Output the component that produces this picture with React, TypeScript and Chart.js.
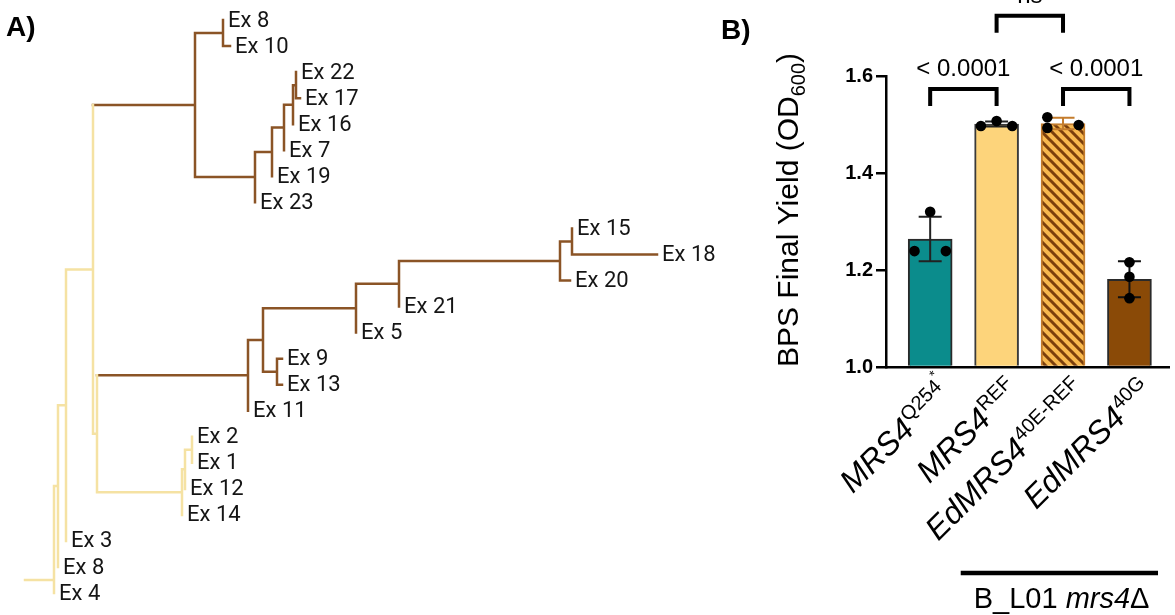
import React, { useEffect, useRef } from 'react';
import { Chart, registerables } from 'chart.js';

Chart.register(...registerables);

// ================= Panel A: phylogenetic tree =================
// Nodes listed top-down; a node's parent always precedes it.
const nodeLabels = [
  '', '', '', '', '', '', '', 'Ex 8', 'Ex 10', '', '', '', '', '', 'Ex 22', 'Ex 17', 'Ex 16', 'Ex 7', 'Ex 19', 'Ex 23',
  '', '', '', '', '', '', '', 'Ex 15', 'Ex 18', 'Ex 20', 'Ex 21', 'Ex 5', '', 'Ex 9', 'Ex 13', 'Ex 11',
  '', '', '', 'Ex 2', 'Ex 1', 'Ex 12', 'Ex 14', 'Ex 3', 'Ex 8', 'Ex 4',
];
const nodeParents = [
  -1, 0, 1, 2, 3, 4, 5, 6, 6, 5, 9, 10, 11, 12, 13, 13, 12, 11, 10, 9,
  4, 20, 21, 22, 23, 24, 25, 26, 26, 25, 24, 23, 22, 32, 32, 21,
  20, 36, 37, 38, 38, 37, 36, 3, 2, 1,
];
// distance from root (substitutions, arbitrary units)
const nodeDepths = [
  0, 0.029, 0.033, 0.041, 0.068, 0.170, 0.198, 0.198, 0.205, 0.230, 0.247, 0.259, 0.268, 0.271, 0.271, 0.275, 0.268, 0.259, 0.247, 0.230,
  0.072, 0.223, 0.238, 0.331, 0.374, 0.535, 0.547, 0.547, 0.632, 0.545, 0.374, 0.331, 0.252, 0.257, 0.257, 0.223,
  0.157, 0.160, 0.167, 0.167, 0.167, 0.160, 0.157, 0.041, 0.033, 0.029,
];
// 0 = ancestral (pale yellow), 1 = derived (brown)
const nodeClades = [
  0, 0, 0, 0, 0, 1, 1, 1, 1, 1, 1, 1, 1, 1, 1, 1, 1, 1, 1, 1,
  0, 1, 1, 1, 1, 1, 1, 1, 1, 1, 1, 1, 1, 1, 1, 1,
  0, 0, 0, 0, 0, 0, 0, 0, 0, 0,
];
const rootStubLeafPos = 21.5;

const CLADE_COLORS = ['#f5e2a3', '#8b5426'];

// ================= Panel B: bar chart =================
const strainBase = ['MRS4', 'MRS4', 'EdMRS4', 'EdMRS4'];
const strainSup = ['Q254', 'REF', '40E-REF', '40G'];
const strainSupMark = ['*', '', '', ''];
const meanYield = [1.264, 1.501, 1.502, 1.181];
const sdYield = [0.046, 0.005, 0.012, 0.037];
const yieldQ254 = [1.320, 1.239, 1.239];
const yieldRef = [1.497, 1.507, 1.497];
const yieldEdRef = [1.515, 1.493, 1.499];
const yieldEd40G = [1.216, 1.186, 1.142];
const replicates = [yieldQ254, yieldRef, yieldEdRef, yieldEd40G];
const yTicks = [1.0, 1.2, 1.4, 1.6];
const compPairs = [[0, 1], [2, 3], [1, 2]];
const compLabels = ['< 0.0001', '< 0.0001', 'ns'];
const compLevels = [1.573, 1.573, 1.724];

// styling
const dotSpread = [[0, -1, 1], [-1, 0, 1], [-1, -1, 1], [0, 0, 0]];
const BAR_BORDERS = ['#2a2a2a', '#3a3a3a', '#c47c2c', '#2a2a2a'];
const ERR_COLORS = ['#222222', '#222222', '#c47c2c', '#111111'];
const SANS = '"Liberation Sans", Arial, sans-serif';

function makeHatch(): CanvasPattern | string {
  const c = document.createElement('canvas');
  c.width = 10;
  c.height = 10;
  const g = c.getContext('2d');
  if (!g) return '#f7b64c';
  g.fillStyle = '#f8b84e';
  g.fillRect(0, 0, 10, 10);
  g.strokeStyle = '#7b3f0c';
  g.lineWidth = 3;
  g.beginPath();
  for (const o of [-10, 0, 10]) {
    g.moveTo(o - 2, -2);
    g.lineTo(o + 12, 12);
  }
  g.stroke();
  return g.createPattern(c, 'repeat') || '#f7b64c';
}

function TreeChart() {
  const ref = useRef<HTMLCanvasElement | null>(null);
  useEffect(() => {
    if (!ref.current) return;
    const n = nodeLabels.length;
    const children: number[][] = Array.from({ length: n }, () => []);
    nodeParents.forEach((p, i) => {
      if (p >= 0) children[p].push(i);
    });
    const ypos = new Array(n).fill(0);
    let leaf = 0;
    for (let i = 0; i < n; i++) if (children[i].length === 0) ypos[i] = leaf++;
    for (let i = n - 1; i >= 0; i--) {
      if (children[i].length) {
        const ys = children[i].map((c) => ypos[c]);
        ypos[i] = (Math.min(...ys) + Math.max(...ys)) / 2;
      }
    }
    ypos[children[0][0]] = rootStubLeafPos;

    const segs: { x: number; y: number | null }[][] = [[], []];
    const add = (cl: number, x1: number, y1: number, x2: number, y2: number) => {
      segs[cl].push({ x: x1, y: y1 }, { x: x2, y: y2 }, { x: x2, y: null });
    };
    for (let i = 0; i < n; i++) {
      const p = nodeParents[i];
      if (p >= 0) add(nodeClades[i], nodeDepths[p], ypos[i], nodeDepths[i], ypos[i]);
      if (children[i].length > 1) {
        const ys = children[i].map((c) => ypos[c]);
        add(nodeClades[i], nodeDepths[i], Math.min(...ys), nodeDepths[i], Math.max(...ys));
      }
    }

    const labelPlugin = {
      id: 'treeLabels',
      afterDatasetsDraw(chart: any) {
        const ctx = chart.ctx;
        const xs = chart.scales.x;
        const ysc = chart.scales.y;
        ctx.save();
        ctx.fillStyle = '#151515';
        ctx.font = '22px Roboto, "Noto Sans", sans-serif';
        ctx.textAlign = 'left';
        ctx.textBaseline = 'middle';
        for (let i = 0; i < n; i++) {
          if (children[i].length === 0) {
            ctx.fillText(nodeLabels[i], xs.getPixelForValue(nodeDepths[i]) + 5, ysc.getPixelForValue(ypos[i]) + 1);
          }
        }
        ctx.fillStyle = '#000';
        ctx.font = `bold 28px ${SANS}`;
        ctx.textBaseline = 'alphabetic';
        ctx.fillText('A)', 6, 36);
        ctx.restore();
      },
    };

    const chart = new Chart(ref.current, {
      type: 'scatter',
      data: {
        datasets: segs.map((d, k) => ({
          data: d as any,
          showLine: true,
          spanGaps: false,
          borderColor: CLADE_COLORS[k],
          borderWidth: 2.5,
          borderCapStyle: 'square' as const,
          pointRadius: 0,
          tension: 0,
        })),
      },
      options: {
        responsive: false,
        animation: false,
        layout: { padding: 0 },
        plugins: { legend: { display: false }, tooltip: { enabled: false } },
        scales: {
          x: { type: 'linear', min: -0.025, max: 0.695, display: false },
          y: { type: 'linear', min: -0.768, max: 22.841, reverse: true, display: false },
        },
      },
      plugins: [labelPlugin],
    });
    return () => chart.destroy();
  }, []);
  return <canvas ref={ref} width={720} height={615} style={{ position: 'absolute', left: 0, top: 0 }} />;
}

function BarChart() {
  const ref = useRef<HTMLCanvasElement | null>(null);
  useEffect(() => {
    if (!ref.current) return;
    const fills = ['#0b8c8c', '#fdd47b', makeHatch(), '#8a4a07'];
    const points: { x: number; y: number }[] = [];
    replicates.forEach((arr, i) => arr.forEach((v, k) => points.push({ x: i + dotSpread[i][k] * 0.236, y: v })));

    const errPlugin = {
      id: 'errBars',
      afterDatasetDraw(chart: any, args: any) {
        if (args.index !== 0) return;
        const ctx = chart.ctx;
        const xs = chart.scales.x;
        const ys = chart.scales.y;
        ctx.save();
        ctx.lineWidth = 2;
        meanYield.forEach((m, i) => {
          const cx = xs.getPixelForValue(i);
          const top = ys.getPixelForValue(m + sdYield[i]);
          const bot = ys.getPixelForValue(m - sdYield[i]);
          ctx.strokeStyle = ERR_COLORS[i];
          ctx.beginPath();
          ctx.moveTo(cx, top);
          ctx.lineTo(cx, bot);
          ctx.moveTo(cx - 11.5, top);
          ctx.lineTo(cx + 11.5, top);
          ctx.moveTo(cx - 11.5, bot);
          ctx.lineTo(cx + 11.5, bot);
          ctx.stroke();
        });
        ctx.restore();
      },
    };

    const decoPlugin = {
      id: 'deco',
      afterDraw(chart: any) {
        const ctx = chart.ctx;
        const xs = chart.scales.x;
        const ys = chart.scales.y;
        const axisY = chart.chartArea.bottom;
        ctx.save();
        ctx.fillStyle = '#000';
        ctx.strokeStyle = '#000';

        // panel letter
        ctx.font = `bold 28px ${SANS}`;
        ctx.textAlign = 'left';
        ctx.textBaseline = 'alphabetic';
        ctx.fillText('B)', 1, 39);

        // y-axis title with subscript
        ctx.save();
        ctx.translate(78, 210);
        ctx.rotate(-Math.PI / 2);
        ctx.font = `30px ${SANS}`;
        const t1 = 'BPS Final Yield (OD';
        const w1 = ctx.measureText(t1).width;
        const w3 = ctx.measureText(')').width;
        ctx.font = `20px ${SANS}`;
        const w2 = ctx.measureText('600').width;
        let x0 = -(w1 + w2 + w3) / 2;
        ctx.font = `30px ${SANS}`;
        ctx.fillText(t1, x0, 0);
        ctx.font = `20px ${SANS}`;
        ctx.fillText('600', x0 + w1, 7);
        ctx.font = `30px ${SANS}`;
        ctx.fillText(')', x0 + w1 + w2, 0);
        ctx.restore();

        // rotated category labels
        strainBase.forEach((base, i) => {
          const cx = xs.getPixelForValue(i);
          ctx.save();
          ctx.translate(cx + 24, axisY + 26);
          ctx.rotate(-Math.PI / 4);
          ctx.font = `italic 32px ${SANS}`;
          const bw = ctx.measureText(base).width;
          ctx.font = `20px ${SANS}`;
          const sw = ctx.measureText(strainSup[i]).width;
          ctx.font = `14px ${SANS}`;
          const mw = strainSupMark[i] ? ctx.measureText(strainSupMark[i]).width : 0;
          const start = -(bw + sw + mw);
          ctx.font = `italic 32px ${SANS}`;
          ctx.fillText(base, start, 0);
          ctx.font = `20px ${SANS}`;
          ctx.fillText(strainSup[i], start + bw + 1, -12);
          if (strainSupMark[i]) {
            ctx.font = `14px ${SANS}`;
            ctx.fillText(strainSupMark[i], start + bw + sw + 1, -23);
          }
          ctx.restore();
        });

        // significance brackets
        ctx.lineWidth = 4;
        ctx.lineJoin = 'miter';
        ctx.lineCap = 'butt';
        compPairs.forEach(([a, b], k) => {
          const x1 = xs.getPixelForValue(a);
          const x2 = xs.getPixelForValue(b);
          const yTop = ys.getPixelForValue(compLevels[k]);
          ctx.beginPath();
          ctx.moveTo(x1, yTop + 17);
          ctx.lineTo(x1, yTop);
          ctx.lineTo(x2, yTop);
          ctx.lineTo(x2, yTop + 17);
          ctx.stroke();
          ctx.font = `24px ${SANS}`;
          ctx.textAlign = 'center';
          ctx.fillText(compLabels[k], (x1 + x2) / 2, yTop - 13);
        });

        // background strain group
        const gx1 = xs.getPixelForValue(0.46);
        const gx2 = xs.getPixelForValue(3.43);
        ctx.lineWidth = 4.5;
        ctx.beginPath();
        ctx.moveTo(gx1, 573);
        ctx.lineTo(gx2, 573);
        ctx.stroke();
        ctx.textAlign = 'left';
        ctx.font = `29px ${SANS}`;
        const g1 = 'B_L01 ';
        ctx.fillText(g1, gx1 + 13, 608);
        const gw = ctx.measureText(g1).width;
        ctx.font = `italic 29px ${SANS}`;
        ctx.fillText('mrs4', gx1 + 13 + gw, 608);
        const mw2 = ctx.measureText('mrs4').width;
        ctx.font = `29px ${SANS}`;
        ctx.fillText('\u0394', gx1 + 13 + gw + mw2, 608);
        ctx.restore();
      },
    };

    const chart = new Chart(ref.current, {
      type: 'bar',
      data: {
        datasets: [
          {
            type: 'bar',
            data: meanYield.map((v, i) => ({ x: i, y: v })) as any,
            backgroundColor: fills as any,
            borderColor: BAR_BORDERS,
            borderWidth: 2,
            barThickness: 44,
            base: 1.0,
            order: 2,
          } as any,
          {
            type: 'scatter',
            data: points as any,
            pointRadius: 5.3,
            pointBackgroundColor: '#000',
            pointBorderColor: '#000',
            pointBorderWidth: 0,
            order: 1,
          } as any,
        ],
      },
      options: {
        responsive: false,
        animation: false,
        layout: { padding: { top: 76, left: 0, right: 0, bottom: 0 } },
        plugins: { legend: { display: false }, tooltip: { enabled: false } },
        scales: {
          x: {
            type: 'linear',
            offset: false,
            min: -0.665,
            max: 3.606,
            grid: { display: false, offset: false },
            ticks: { display: false },
            border: { display: true, color: '#000', width: 2.5, z: 1 },
            afterFit: (s: any) => {
              s.height = 248;
            },
          },
          y: {
            type: 'linear',
            min: 1.0,
            max: 1.6,
            afterBuildTicks: (s: any) => {
              s.ticks = yTicks.map((v) => ({ value: v }));
            },
            ticks: {
              color: '#000',
              padding: 3,
              font: { family: SANS, weight: 'bold', size: 20 },
              callback: (v: any) => Number(v).toFixed(1),
            },
            grid: { display: true, drawOnChartArea: false, drawTicks: true, tickLength: 10, color: '#000', lineWidth: 2.5 },
            border: { display: true, color: '#000', width: 2.5, z: 1 },
            afterFit: (s: any) => {
              s.width = 166;
            },
          },
        },
      } as any,
      plugins: [errPlugin, decoPlugin],
    });
    return () => chart.destroy();
  }, []);
  return <canvas ref={ref} width={455} height={615} style={{ position: 'absolute', left: 720, top: 0 }} />;
}

export default function App() {
  return (
    <div style={{ position: 'fixed', left: 0, top: 0, width: 1175, height: 615, overflow: 'hidden', background: '#fff' }}>
      <TreeChart />
      <BarChart />
    </div>
  );
}
